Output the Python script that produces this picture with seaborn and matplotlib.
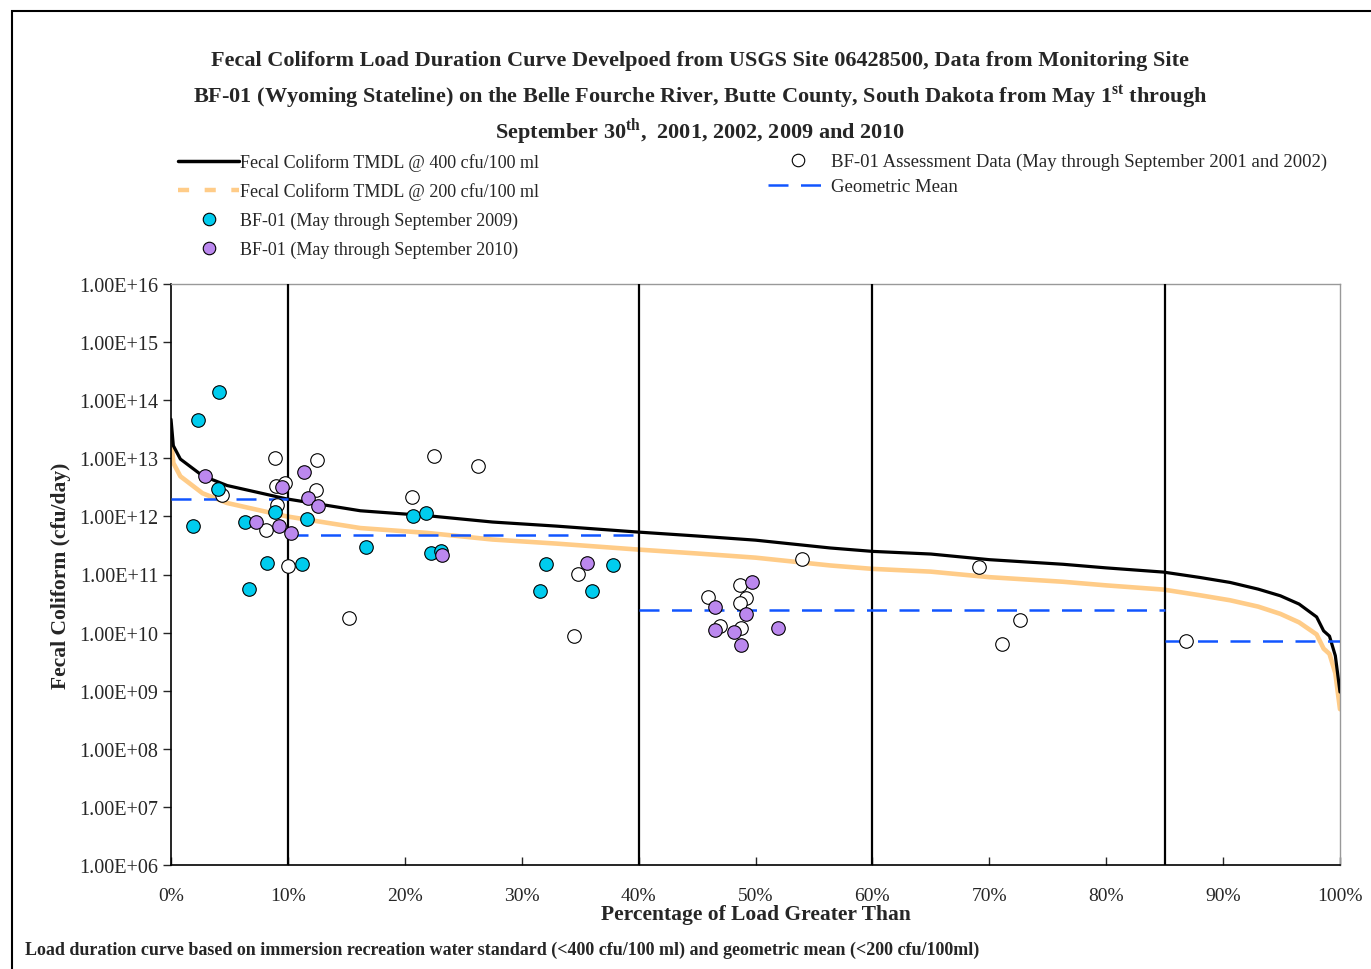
"""Fecal coliform load duration curve for BF-01 on the Belle Fourche River."""

import numpy as np
import pandas as pd
import matplotlib
matplotlib.use('Agg')
import matplotlib.pyplot as plt
import matplotlib.ticker as mticker
from matplotlib.lines import Line2D
from matplotlib.patches import Rectangle
import seaborn as sns

# Load duration curves (percent of load greater than, cfu/day)
curve_pct = [0.0, 0.2, 0.8, 2.7, 4.8, 9.9, 16.2, 21.9, 27.5, 33.0, 39.8, 45.0,
             50.0, 56.4, 60.0, 65.0, 70.0, 76.3, 80.0, 84.9, 88.0, 90.6, 93.0,
             94.9, 96.5, 98.0, 98.6, 99.1, 99.6, 100.0]
tmdl_400 = [4.7e13, 1.65e13, 9.7e12, 5.0e12, 3.4e12, 2.0e12, 1.25e12, 1.03e12,
            8.0e11, 6.8e11, 5.4e11, 4.6e11, 3.9e11, 2.86e11, 2.5e11, 2.25e11,
            1.8e11, 1.5e11, 1.3e11, 1.1e11, 8.9e10, 7.3e10, 5.6e10, 4.3e10,
            3.1e10, 1.86e10, 1.07e10, 8.7e9, 4.0e9, 9.5e8]
tmdl_200 = [2.4e13, 8.3e12, 4.9e12, 2.5e12, 1.7e12, 1.0e12, 6.3e11, 5.2e11,
            4.0e11, 3.4e11, 2.7e11, 2.3e11, 1.95e11, 1.43e11, 1.25e11, 1.12e11,
            9.0e10, 7.5e10, 6.5e10, 5.5e10, 4.4e10, 3.6e10, 2.8e10, 2.1e10,
            1.5e10, 9.3e9, 5.3e9, 4.3e9, 2.0e9, 4.8e8]

# Flow regime boundaries and geometric mean of observed loads per regime
regime_bounds = [10, 40, 60, 85]
gm_start = [0, 10, 40, 85]
gm_end = [10, 40, 85, 100]
gm_value = [2.0e12, 4.8e11, 2.48e10, 7.1e9]

# BF-01 May-September 2009
pct_2009 = [4.1, 2.3, 4.0, 1.9, 6.3, 8.9, 11.6, 8.2, 11.2, 6.7, 16.7, 20.7,
            21.8, 22.2, 23.1, 32.1, 31.6, 36.0, 37.8]
load_2009 = [1.4e14, 4.6e13, 3.0e12, 6.8e11, 8.1e11, 1.17e12, 9.0e11, 1.56e11,
             1.54e11, 5.6e10, 3.0e11, 1.0e12, 1.13e12, 2.3e11, 2.5e11, 1.53e11,
             5.3e10, 5.3e10, 1.46e11]

# BF-01 May-September 2010
pct_2010 = [2.9, 7.3, 9.5, 9.2, 10.3, 11.4, 11.7, 12.6, 23.2, 35.6, 46.5, 49.7,
            49.2, 46.5, 48.2, 48.8, 51.9]
load_2010 = [4.9e12, 7.9e11, 3.2e12, 6.8e11, 5.1e11, 5.9e12, 2.1e12, 1.5e12,
             2.2e11, 1.6e11, 2.8e10, 7.3e10, 2.1e10, 1.1e10, 1.02e10, 6.0e9,
             1.19e10]

# BF-01 assessment data, May-September 2001 and 2002
pct_assess = [8.9, 12.5, 9.0, 9.75, 12.4, 4.4, 9.1, 8.1, 10.0, 15.2, 22.5, 26.3,
              20.6, 34.8, 34.5, 54.0, 45.9, 48.7, 49.2, 48.7, 47.0, 48.8, 69.1,
              72.6, 71.1, 86.8]
load_assess = [1.0e13, 9.2e12, 3.4e12, 3.8e12, 2.9e12, 2.3e12, 1.6e12, 5.9e11,
               1.4e11, 1.8e10, 1.08e13, 7.3e12, 2.2e12, 1.03e11, 8.6e9, 1.85e11,
               4.1e10, 6.7e10, 3.9e10, 3.2e10, 1.28e10, 1.2e10, 1.36e11, 1.67e10,
               6.3e9, 7.1e9]

# Axis ticks
y_ticks = [1e6, 1e7, 1e8, 1e9, 1e10, 1e11, 1e12, 1e13, 1e14, 1e15, 1e16]
x_ticks = [0, 10, 20, 30, 40, 50, 60, 70, 80, 90, 100]

TITLE_LINES = [
    'Fecal Coliform Load Duration Curve Develpoed from USGS Site 06428500, Data from Monitoring Site',
    r'BF-01 (Wyoming Stateline) on the Belle Fourche River, Butte County, South Dakota from May 1$^{\mathbf{st}}$ through',
    r'September 30$^{\mathbf{th}}$,  2001, 2002, 2009 and 2010',
]

CYAN = '#00CCEE'
PURPLE = '#BB88EE'
ORANGE = '#FFCC88'
BLUE = '#1155FF'

sns.set_style('white')
plt.rcParams['font.family'] = ['Liberation Serif', 'DejaVu Serif']
plt.rcParams['mathtext.fontset'] = 'custom'
plt.rcParams['mathtext.rm'] = 'Liberation Serif:bold'
plt.rcParams['mathtext.bf'] = 'Liberation Serif:bold'

curves = pd.DataFrame({'pct': curve_pct, 'tmdl_400': tmdl_400, 'tmdl_200': tmdl_200})

fig = plt.figure(figsize=(13.71, 9.70), dpi=100)
ax = fig.add_axes([171 / 1371, 1 - 866 / 970, (1340 - 171) / 1371, (866 - 285) / 970])

# Curves
sns.lineplot(data=curves, x='pct', y='tmdl_200', color=ORANGE, lw=3.3, ax=ax,
             legend=False, zorder=2)
sns.lineplot(data=curves, x='pct', y='tmdl_400', color='black', lw=2.3, ax=ax,
             legend=False, zorder=3)

# Flow regime separators
for b in regime_bounds:
    ax.axvline(b, color='black', lw=1.6, zorder=4)

# Geometric means
ax.hlines(gm_value, gm_start, gm_end, colors=BLUE, lw=1.8,
          linestyles=(0, (8, 5)), zorder=5)

# Observations
sns.scatterplot(x=pct_assess, y=load_assess, ax=ax, s=95, color='white',
                edgecolor='black', linewidth=0.8, zorder=6)
sns.scatterplot(x=pct_2009, y=load_2009, ax=ax, s=95, color=CYAN,
                edgecolor='black', linewidth=0.8, zorder=7)
sns.scatterplot(x=pct_2010, y=load_2010, ax=ax, s=95, color=PURPLE,
                edgecolor='black', linewidth=0.8, zorder=8)

# Axes formatting
ax.set_yscale('log')
ax.set_ylim(1e6, 1e16)
ax.set_xlim(0, 100)
ax.yaxis.set_major_locator(mticker.FixedLocator(y_ticks))
ax.yaxis.set_minor_locator(mticker.NullLocator())
ax.yaxis.set_major_formatter(mticker.FuncFormatter(lambda v, _: f'{v:.2E}'))
ax.xaxis.set_major_locator(mticker.FixedLocator(x_ticks))
ax.xaxis.set_major_formatter(mticker.PercentFormatter(decimals=0))
ax.tick_params(axis='y', direction='out', length=6, width=1, labelsize=14.5, pad=3,
               left=True)
ax.tick_params(axis='x', direction='in', length=6, width=1, labelsize=14, pad=16,
               bottom=True)

for side in ['left', 'bottom']:
    ax.spines[side].set_color('black')
    ax.spines[side].set_linewidth(1.2)
for side in ['top', 'right']:
    ax.spines[side].set_color('#999999')
    ax.spines[side].set_linewidth(1.0)

ax.set_xlabel('Percentage of Load Greater Than', fontsize=15.5, fontweight='bold',
              labelpad=0)
ax.set_ylabel('Fecal Coliform (cfu/day)', fontsize=15.5, fontweight='bold',
              labelpad=6)

# Title
for y, line in zip([61, 97, 132], TITLE_LINES):
    fig.text(700 / 1371, 1 - y / 970, line, ha='center', va='center',
             fontsize=16, fontweight='bold')

# Legend (two blocks as in the original)
left_handles = [
    Line2D([], [], color='black', lw=2.5),
    Line2D([], [], color=ORANGE, lw=3.2, dashes=(2.5, 3.5)),
    Line2D([], [], ls='none', marker='o', markersize=9, markerfacecolor=CYAN,
           markeredgecolor='black', markeredgewidth=0.8),
    Line2D([], [], ls='none', marker='o', markersize=9, markerfacecolor=PURPLE,
           markeredgecolor='black', markeredgewidth=0.8),
]
left_labels = ['Fecal Coliform TMDL @ 400 cfu/100 ml',
               'Fecal Coliform TMDL @ 200 cfu/100 ml',
               'BF-01 (May through September 2009)',
               'BF-01 (May through September 2010)']
leg1 = fig.legend(left_handles, left_labels, loc='upper left',
                  bbox_to_anchor=(178 / 1371, 1 - 154 / 970), frameon=False,
                  fontsize=13, handlelength=3.4, handletextpad=0.05,
                  labelspacing=0.64, borderpad=0, borderaxespad=0)

right_handles = [
    Line2D([], [], ls='none', marker='o', markersize=9, markerfacecolor='white',
           markeredgecolor='black', markeredgewidth=0.8),
    Line2D([], [], color=BLUE, lw=1.8, dashes=(8, 5)),
]
right_labels = ['BF-01 Assessment Data (May through September 2001 and 2002)',
                'Geometric Mean']
leg2 = fig.legend(right_handles, right_labels, loc='upper left',
                  bbox_to_anchor=(768 / 1371, 1 - 154 / 970), frameon=False,
                  fontsize=13.5, handlelength=3.2, handletextpad=0.15,
                  labelspacing=0.42, borderpad=0, borderaxespad=0)

# Footnote
fig.text(25 / 1371, 1 - 950 / 970,
         'Load duration curve based on immersion recreation water standard '
         '(<400 cfu/100 ml) and geometric mean (<200 cfu/100ml)',
         ha='left', va='center', fontsize=13, fontweight='bold')

# Outer frame of the chart area
fig.patches.append(Rectangle((12 / 1371, -0.1), 1.2, 1.1 - 12 / 970,
                             transform=fig.transFigure, fill=False,
                             edgecolor='black', lw=1.5))

fig.savefig('out.png', dpi=100)
